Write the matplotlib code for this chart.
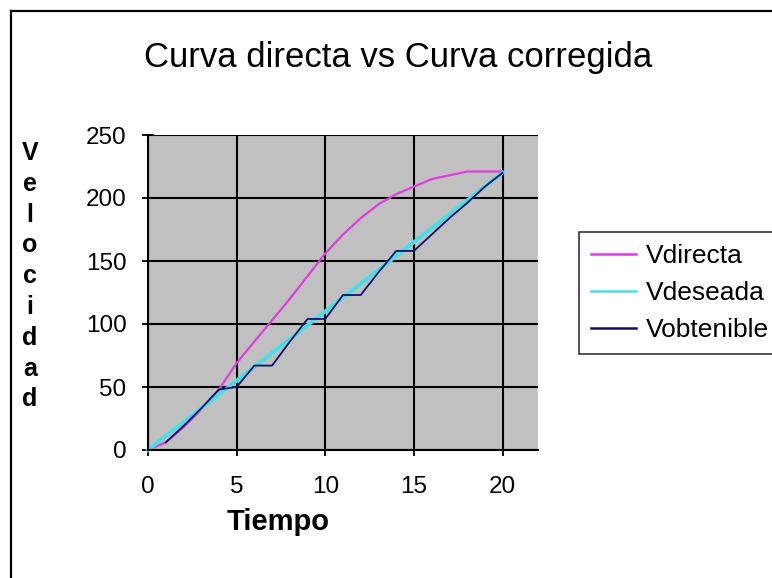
import matplotlib
matplotlib.use("Agg")
import matplotlib.pyplot as plt
from matplotlib.lines import Line2D

plt.rcParams['font.family'] = ['Liberation Sans', 'DejaVu Sans']

# ---- data ----
tiempo = [0, 1, 2, 3, 4, 5, 6, 7, 8, 9, 10, 11, 12, 13, 14, 15, 16, 17, 18, 19, 20]
vdirecta = [0, 6, 18, 32, 48, 69, 86, 103, 120, 138, 156, 171, 184, 195, 203, 209, 215, 218, 221, 221, 221]
vdeseada = [0, 11, 22, 33, 44, 55, 66, 77, 88, 99, 110, 121, 132, 143, 154, 165, 176, 187, 198, 209, 220]
tiempo_obt = [1, 2, 3, 4, 5, 6, 7, 8, 9, 10, 11, 12, 13, 14, 15, 16, 17, 18, 19, 20]
vobtenible = [6, 19, 33, 48, 50, 67, 67, 86, 104, 104, 123, 123, 141, 158, 158, 171, 184, 196, 209, 220]
x_ticks = [0, 5, 10, 15, 20]
y_ticks = [0, 50, 100, 150, 200, 250]

W, H = 772, 578
fig = plt.figure(figsize=(W / 100, H / 100), dpi=100)
fig.patch.set_facecolor('white')

# outer chart border (left and top visible)
fig.add_artist(Line2D([10.5 / W, 10.5 / W], [0, 1 - 10.5 / H], color='black', lw=1.6))
fig.add_artist(Line2D([10.5 / W, 1], [1 - 10.5 / H, 1 - 10.5 / H], color='black', lw=1.6))

L, R, T, B = 148, 538, 135, 450
ax = fig.add_axes([L / W, 1 - B / H, (R - L) / W, (B - T) / H])
ax.set_facecolor('#C0C0C0')
ax.set_xlim(0, 22)
ax.set_ylim(0, 250)
ax.set_xticks(x_ticks)
ax.set_yticks(y_ticks)
ax.grid(True, color='black', lw=1.5)
ax.set_axisbelow(True)
for s in ['top', 'right']:
    ax.spines[s].set_visible(False)
for s in ['left', 'bottom']:
    ax.spines[s].set_color('black')
    ax.spines[s].set_linewidth(1.5)
ax.tick_params(axis='both', direction='inout', length=9, width=1.3, labelsize=17.5, colors='black')
ax.tick_params(axis='y', pad=11)
ax.tick_params(axis='x', pad=14)

ax.plot(tiempo, vdirecta, color='#E03CE0', lw=1.6, label='Vdirecta', clip_on=False)
ax.plot(tiempo, vdeseada, color='#45E0E6', lw=2.8, label='Vdeseada', clip_on=False)
ax.plot(tiempo_obt, vobtenible, color='#10106E', lw=1.3, label='Vobtenible', clip_on=False)

fig.text(398 / W, 1 - 57 / H, 'Curva directa vs Curva corregida', fontsize=25,
         ha='center', va='center')
fig.text(278 / W, 1 - 522 / H, 'Tiempo', fontsize=21, fontweight='bold',
         ha='center', va='center')

letters = list('Velocidad')
y0, step = 160, 30.8
for i, ch in enumerate(letters):
    fig.text(30 / W, 1 - (y0 + i * step) / H, ch, fontsize=18, fontweight='bold',
             ha='center', va='baseline')

leg = fig.legend(loc='upper left', bbox_to_anchor=(579 / W, 1 - 232 / H),
                 fontsize=19, frameon=True, fancybox=False, edgecolor='black',
                 handlelength=1.7, handletextpad=0.4, borderpad=0.45,
                 labelspacing=0.5, borderaxespad=0)
leg.get_frame().set_linewidth(1.2)
for h in leg.get_lines():
    h.set_linewidth(1.8)

fig.savefig('out.png', dpi=100)
